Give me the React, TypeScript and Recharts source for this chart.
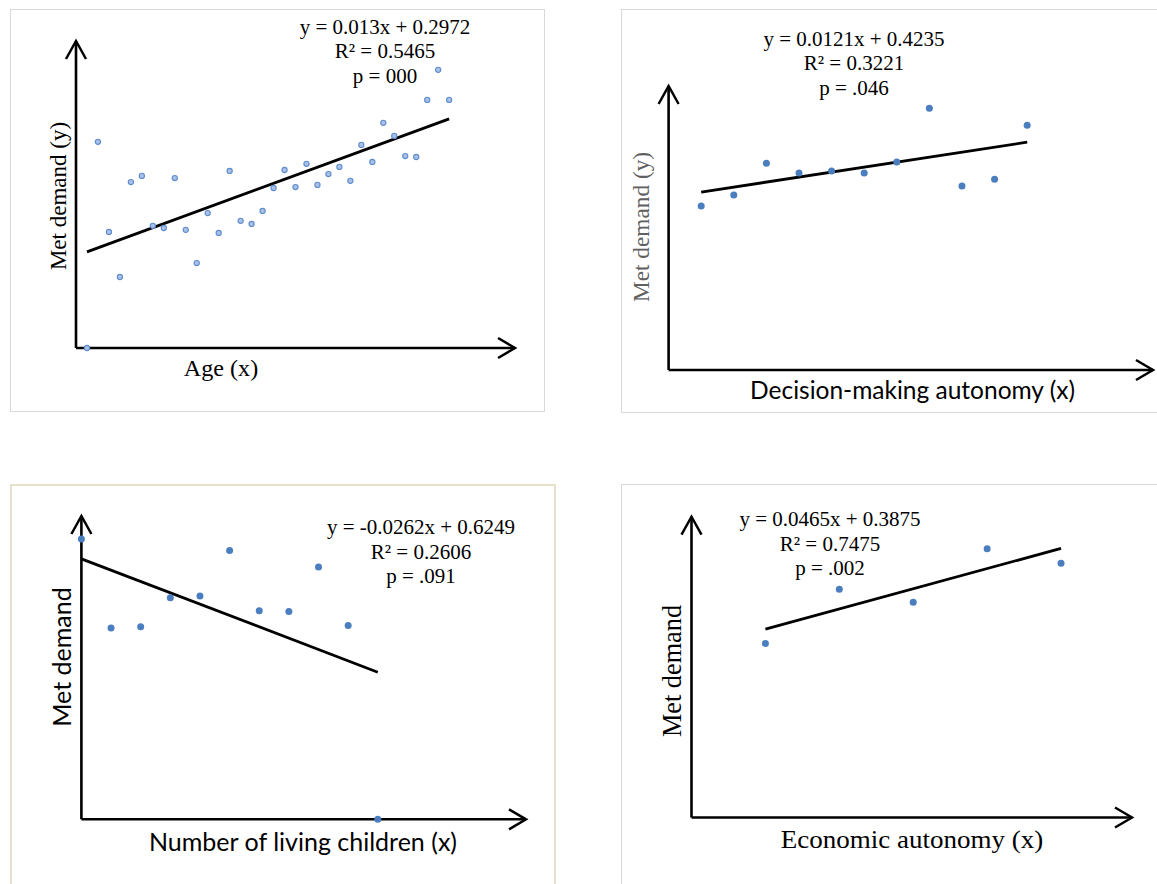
import React from 'react';
import { ScatterChart, Scatter, XAxis, YAxis, ReferenceLine, ReferenceDot } from 'recharts';

// ---------- Panel 1: Age ----------
const ageX = [1,2,3,4,5,6,7,8,9,10,11,12,13,14,15,16,17,18,19,20,21,22,23,24,25,26,27,28,29,30,31,32,33,34];
const ageY = [0.0,0.665,0.374,0.229,0.535,0.555,0.394,0.387,0.548,0.381,0.274,0.435,0.371,0.571,0.41,0.4,0.442,0.516,0.574,0.519,0.594,0.526,0.561,0.584,0.539,0.655,0.6,0.726,0.684,0.619,0.616,0.8,0.897,0.8];
const ageTrendX = [1, 34];
const ageTrendY = [0.31, 0.739];
const ageEquation = ['y = 0.013x + 0.2972', 'R² = 0.5465', 'p = 000'];

// ---------- Panel 2: Decision-making autonomy ----------
const decX = [1,2,3,4,5,6,7,8,9,10,11];
const decY = [0.397,0.424,0.501,0.477,0.482,0.477,0.504,0.634,0.446,0.462,0.593];
const decTrendX = [1, 11];
const decTrendY = [0.431, 0.552];
const decEquation = ['y = 0.0121x + 0.4235', 'R² = 0.3221', 'p = .046'];

// ---------- Panel 3: Number of living children ----------
const kidsX = [0,1,2,3,4,5,6,7,8,9,10];
const kidsY = [0.648,0.442,0.445,0.512,0.516,0.621,0.482,0.48,0.583,0.448,0.0];
const kidsTrendX = [0, 10];
const kidsTrendY = [0.602, 0.34];
const kidsEquation = ['y = -0.0262x + 0.6249', 'R² = 0.2606', 'p = .091'];

// ---------- Panel 4: Economic autonomy ----------
const ecoX = [1,2,3,4,5];
const ecoY = [0.401,0.526,0.496,0.619,0.586];
const ecoTrendX = [1, 5];
const ecoTrendY = [0.434, 0.62];
const ecoEquation = ['y = 0.0465x + 0.3875', 'R² = 0.7475', 'p = .002'];

const zip = (xs: number[], ys: number[]) => xs.map((x, i) => ({ x, y: ys[i] }));

const SERIF = '"Liberation Serif", "Times New Roman", serif';
const SANS = 'Lato, "Open Sans", sans-serif';

type PanelProps = {
  left: number; top: number; width: number; height: number;
  margin: { top: number; right: number; bottom: number; left: number };
  xMax: number; yMax: number;
  points: { x: number; y: number }[];
  trend: { x: number; y: number }[];
  hollow?: boolean;
};

const Panel = ({ left, top, width, height, margin, xMax, yMax, points, trend, hollow }: PanelProps) => {
  const dot = (p: any) =>
    hollow ? (
      <circle cx={p.cx} cy={p.cy} r={2.6} fill="#a9c0e8" stroke="#5f8ccc" strokeWidth={1.1} />
    ) : (
      <circle cx={p.cx} cy={p.cy} r={3.5} fill="#4a7ebf" />
    );
  const xArrow = (p: any) => (
    <path d={`M${p.cx - 17},${p.cy - 10} L${p.cx},${p.cy} L${p.cx - 17},${p.cy + 10}`} fill="none" stroke="#000" strokeWidth={2.5} />
  );
  const yArrow = (p: any) => (
    <path d={`M${p.cx - 10},${p.cy + 18} L${p.cx},${p.cy} L${p.cx + 10},${p.cy + 18}`} fill="none" stroke="#000" strokeWidth={2.5} />
  );
  return (
    <div style={{ position: 'absolute', left, top, width, height }}>
      <ScatterChart width={width} height={height} margin={margin}>
        <XAxis type="number" dataKey="x" domain={[0, xMax]} hide />
        <YAxis type="number" dataKey="y" domain={[0, yMax]} hide />
        <ReferenceLine y={0} stroke="#000" strokeWidth={2.6} ifOverflow="visible" />
        <ReferenceLine x={0} stroke="#000" strokeWidth={2.6} ifOverflow="visible" />
        <ReferenceDot x={xMax} y={0} r={0} ifOverflow="visible" shape={xArrow} />
        <ReferenceDot x={0} y={yMax} r={0} ifOverflow="visible" shape={yArrow} />
        <Scatter data={trend} line={{ stroke: '#000', strokeWidth: 2.8 }} shape={() => <g />} isAnimationActive={false} />
        <Scatter data={points} shape={dot} isAnimationActive={false} />
      </ScatterChart>
    </div>
  );
};

const Equation = ({ cx, top, lines }: { cx: number; top: number; lines: string[] }) => (
  <div style={{ position: 'absolute', left: cx - 150, top, width: 300, textAlign: 'center', fontFamily: SERIF, fontSize: 21, lineHeight: '24.5px', color: '#000', whiteSpace: 'nowrap' }}>
    {lines.map((l, i) => (
      <div key={i}>{l}</div>
    ))}
  </div>
);

type TitleProps = { cx: number; cy: number; text: string; font: string; size: number; color?: string; sx?: number };

const XTitle = ({ cx, cy, text, font, size, color = '#000', sx = 1 }: TitleProps) => (
  <div style={{ position: 'absolute', left: cx, top: cy, transform: `translate(-50%, -50%) scaleX(${sx})`, fontFamily: font, fontSize: size, color, whiteSpace: 'nowrap', lineHeight: 1 }}>
    {text}
  </div>
);

const YTitle = ({ cx, cy, text, font, size, color = '#000' }: TitleProps) => (
  <div style={{ position: 'absolute', left: cx, top: cy, transform: 'translate(-50%, -50%) rotate(-90deg)', fontFamily: font, fontSize: size, color, whiteSpace: 'nowrap', lineHeight: 1 }}>
    {text}
  </div>
);

export default function App() {
  return (
    <div style={{ position: 'absolute', left: 0, top: 0, width: 1157, height: 884, background: '#fff', overflow: 'hidden' }}>
      {/* panel frames */}
      <div style={{ position: 'absolute', left: 10, top: 9, width: 535, height: 403, border: '1.5px solid #d9d9d9', boxSizing: 'border-box' }} />
      <div style={{ position: 'absolute', left: 621, top: 9, width: 560, height: 404, border: '1.5px solid #d9d9d9', boxSizing: 'border-box' }} />
      <div style={{ position: 'absolute', left: 10, top: 484, width: 546, height: 420, border: '2px solid #e6e2ca', boxSizing: 'border-box' }} />
      <div style={{ position: 'absolute', left: 621, top: 484, width: 560, height: 420, border: '1.5px solid #d9d9d9', boxSizing: 'border-box' }} />

      <Panel left={11} top={10} width={535} height={403} margin={{ top: 31, right: 31, bottom: 65, left: 65 }}
        xMax={40} yMax={0.99} points={zip(ageX, ageY)} trend={zip(ageTrendX, ageTrendY)} hollow />
      <Panel left={622} top={10} width={535} height={402} margin={{ top: 76, right: 4, bottom: 42, left: 46.6 }}
        xMax={14.86} yMax={0.688} points={zip(decX, decY)} trend={zip(decTrendX, decTrendY)} />
      <Panel left={11} top={485} width={544} height={399} margin={{ top: 31, right: 29, bottom: 64.7, left: 70.4 }}
        xMax={15} yMax={0.701} points={zip(kidsX, kidsY)} trend={zip(kidsTrendX, kidsTrendY)} />
      <Panel left={622} top={485} width={535} height={399} margin={{ top: 31.7, right: 25, bottom: 66.5, left: 69.5 }}
        xMax={5.96} yMax={0.693} points={zip(ecoX, ecoY)} trend={zip(ecoTrendX, ecoTrendY)} />

      <Equation cx={385} top={14.6} lines={ageEquation} />
      <Equation cx={854} top={26.6} lines={decEquation} />
      <Equation cx={421} top={515.3} lines={kidsEquation} />
      <Equation cx={830} top={507} lines={ecoEquation} />

      <XTitle cx={220.5} cy={368} text="Age (x)" font={SERIF} size={23} sx={1.05} />
      <YTitle cx={57.5} cy={196} text="Met demand (y)" font={SERIF} size={23} />

      <XTitle cx={912.5} cy={390} text="Decision-making autonomy (x)" font={SANS} size={24.5} />
      <YTitle cx={642} cy={226.5} text="Met demand (y)" font={SERIF} size={23.3} color="#606060" />

      <XTitle cx={303} cy={841} text="Number of living children (x)" font={SANS} size={25} />
      <YTitle cx={61.4} cy={656.5} text="Met demand" font={SANS} size={25} />

      <XTitle cx={912} cy={839} text="Economic autonomy (x)" font={SERIF} size={25} sx={1.08} />
      <YTitle cx={673} cy={671} text="Met demand" font={SERIF} size={26.3} />
    </div>
  );
}
